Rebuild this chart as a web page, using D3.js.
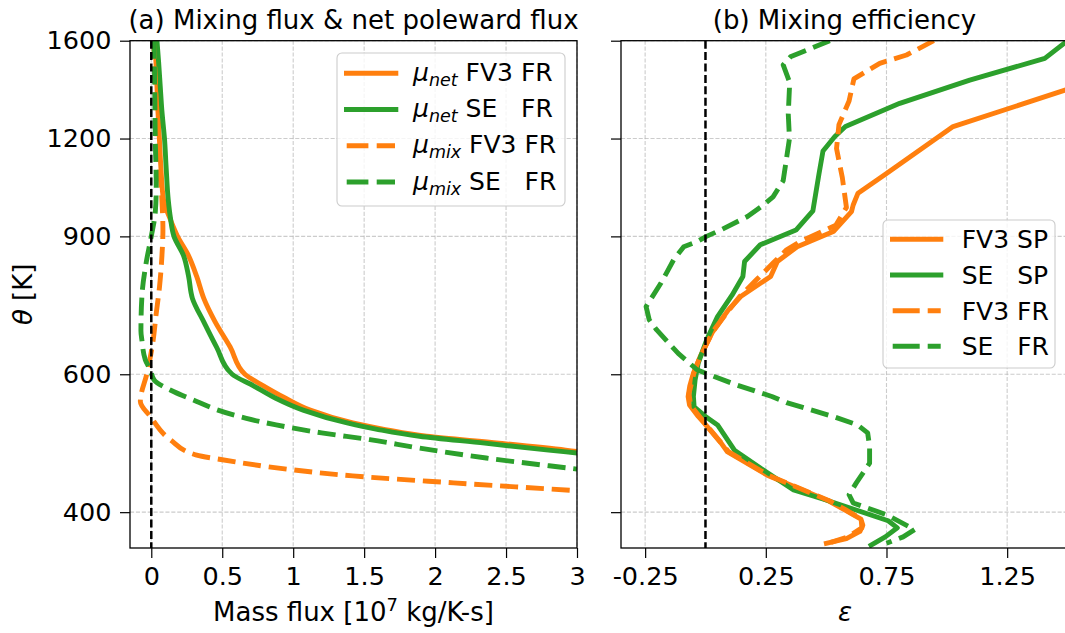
<!DOCTYPE html>
<html><head><meta charset="utf-8">
<script src="https://cdn.jsdelivr.net/npm/d3@7"></script>
<style>
body{margin:0;background:#fff}
svg{font-family:"DejaVu Sans",sans-serif}
</style></head><body>
<svg id="c" width="1065" height="633"></svg>
<script>
// ---- tick definitions ----
const thetaTicks=[400,600,900,1200,1600];
const fluxTicks=[0,0.5,1,1.5,2,2.5,3];
const fluxTickLabels=["0","0.5","1","1.5","2","2.5","3"];
const effTicks=[-0.25,0.25,0.75,1.25];
const effTickLabels=["-0.25","0.25","0.75","1.25"];

// ---- panel (a): [theta, mass flux] ----
const muNetFV3FR=[[1600,0.025],[1500,0.033],[1400,0.04],[1300,0.047],[1200,0.057],[1100,0.068],[1000,0.087],[950,0.13],[900,0.185],[850,0.263],[800,0.32],[750,0.37],[700,0.45],[650,0.556],[600,0.66],[580,0.79],[560,0.94],[540,1.12],[520,1.42],[510,1.65],[500,1.94],[490,2.45],[480,2.92],[478,3.0],[467,3.55]];
const muNetSEFR=[[1600,0.04],[1500,0.052],[1400,0.063],[1300,0.075],[1200,0.093],[1100,0.105],[1000,0.12],[950,0.135],[900,0.16],[850,0.228],[800,0.263],[750,0.29],[700,0.37],[650,0.46],[600,0.57],[580,0.72],[560,0.87],[540,1.07],[520,1.38],[510,1.6],[500,1.89],[490,2.35],[480,2.8],[476,3.0],[465,3.55]];
const muMixFV3FR=[[1600,0.016],[1400,0.03],[1200,0.04],[1000,0.075],[917,0.082],[850,0.075],[776,0.058],[718,0.035],[657,0.01],[602,-0.03],[554,-0.077],[530,-0.007],[495,0.134],[473,0.32],[467,0.49],[454,0.955],[445,1.42],[436,2.13],[426,3.0],[420,3.5]];
const muMixSEFR=[[1600,0.02],[1400,0.024],[1200,0.028],[1040,0.035],[965,0.028],[900,0.0],[835,-0.035],[755,-0.066],[682,-0.073],[663,-0.066],[626,-0.042],[608,-0.007],[590,0.02],[570,0.16],[554,0.32],[540,0.47],[527,0.67],[517,0.88],[505,1.2],[495,1.54],[483,1.89],[469,2.36],[454,3.0],[445,3.4]];

// ---- panel (b): [theta, mixing efficiency] ----
const effFV3SP=[[1393,1.52],[1243,1.026],[1083,0.75],[1022,0.632],[987,0.612],[968,0.605],[913,0.53],[873,0.38],[836,0.298],[800,0.27],[754,0.146],[725,0.095],[680,0.03],[632,-0.022],[602,-0.05],[580,-0.065],[562,-0.072],[548,-0.066],[530,-0.03],[520,-0.006],[490,0.065],[478,0.09],[446,0.256],[414,0.506],[403,0.575],[392,0.644],[385,0.652],[378,0.64],[370,0.584],[365,0.501]];
const effSESP=[[1600,1.5],[1519,1.406],[1425,1.095],[1331,0.805],[1243,0.58],[1207,0.536],[1157,0.487],[1080,0.47],[970,0.445],[917,0.375],[878,0.227],[836,0.162],[800,0.155],[757,0.11],[711,0.05],[664,0.005],[620,-0.03],[590,-0.043],[562,-0.05],[545,-0.047],[530,0.0],[517,0.05],[480,0.12],[455,0.229],[427,0.365],[414,0.506],[390,0.757],[382,0.795],[372,0.745],[363,0.686]];
const effFV3FR=[[1600,0.946],[1534,0.833],[1497,0.722],[1430,0.615],[1340,0.595],[1250,0.553],[1165,0.543],[1070,0.567],[980,0.584],[930,0.54],[886,0.391],[865,0.336],[832,0.28],[792,0.211],[754,0.142],[718,0.087],[680,0.03],[632,-0.022],[602,-0.048],[567,-0.068],[548,-0.062],[520,-0.003],[478,0.095],[446,0.26],[414,0.51],[403,0.58],[392,0.645],[382,0.648],[372,0.59],[366,0.52]];
const effSEFR=[[1600,0.515],[1526,0.352],[1490,0.322],[1415,0.349],[1290,0.343],[1200,0.348],[1060,0.322],[1011,0.28],[985,0.237],[954,0.174],[917,0.063],[900,0.004],[886,-0.035],[873,-0.09],[840,-0.132],[815,-0.155],[784,-0.185],[732,-0.246],[704,-0.233],[684,-0.203],[638,-0.113],[608,-0.035],[596,0.036],[582,0.125],[562,0.275],[552,0.336],[530,0.529],[517,0.63],[505,0.672],[485,0.68],[462,0.68],[436,0.625],[421,0.595],[411,0.612],[397,0.75],[380,0.867],[372,0.819],[365,0.75]];

const ORANGE="#ff7f0e", GREEN="#2ca02c";
const LW=4.9, DASH="18,7.8";
const FS=26, TFS=25.5, LFS=25;

const svg=d3.select("#c");
const y=d3.scaleLog().domain([360,1600]).range([548,40.7]);
const xa=d3.scaleLinear().domain([-0.15,3]).range([130,577]);
const xb=d3.scaleLinear().domain([-0.35,1.5]).range([621,1067.5]);

function drawPanel(id,x,ticks,labels,series,yLabels,curve){
  const [x0,x1]=x.range(); const [yb,yt]=y.range();
  svg.append("clipPath").attr("id",id).append("rect")
    .attr("x",x0).attr("y",yt).attr("width",x1-x0).attr("height",yb-yt);
  const g=svg.append("g");
  const grid=g.append("g").attr("stroke","#b0b0b0").attr("stroke-opacity",0.65)
    .attr("stroke-width",1.1).attr("stroke-dasharray","4.1,1.8");
  grid.selectAll("line.v").data(ticks).join("line").attr("class","v")
    .attr("x1",d=>x(d)).attr("x2",d=>x(d)).attr("y1",yt).attr("y2",yb);
  grid.selectAll("line.h").data(thetaTicks).join("line").attr("class","h")
    .attr("x1",x0).attr("x2",x1).attr("y1",d=>y(d)).attr("y2",d=>y(d));
  const plot=g.append("g").attr("clip-path",`url(#${id})`);
  const line=d3.line().x(d=>x(d[1])).y(d=>y(d[0])).curve(curve);
  series.forEach(s=>{
    plot.append("path").datum(s.data).attr("d",line).attr("fill","none")
      .attr("stroke",s.color).attr("stroke-width",LW)
      .attr("stroke-dasharray",s.dashed?DASH:null)
      .attr("stroke-linejoin","round")
      .attr("stroke-linecap",s.dashed?"butt":"square");
  });
  plot.append("line").attr("x1",x(0)).attr("x2",x(0)).attr("y1",yt).attr("y2",yb)
    .attr("stroke","#000").attr("stroke-width",2.5).attr("stroke-dasharray","8,3.4");
  // axes
  const ax=d3.axisBottom(x).tickValues(ticks).tickFormat((d,i)=>labels[i])
    .tickSize(10).tickPadding(9).tickSizeOuter(0);
  const gx=svg.append("g").attr("transform",`translate(0,${yb})`).call(ax);
  const ay=d3.axisLeft(y).tickValues(thetaTicks).tickFormat(d=>yLabels?String(d):"")
    .tickSize(10).tickPadding(8.5).tickSizeOuter(0);
  const gy=svg.append("g").attr("transform",`translate(${x0},0)`).call(ay);
  [gx,gy].forEach(a=>{
    a.select(".domain").remove();
    a.selectAll("line").attr("stroke","#000").attr("stroke-width",1.2);
    a.selectAll("text").attr("font-size",TFS).attr("font-family",'"DejaVu Sans",sans-serif').attr("fill","#000");
  });
  svg.append("rect").attr("x",x0).attr("y",yt).attr("width",x1-x0).attr("height",yb-yt)
    .attr("fill","none").attr("stroke","#000").attr("stroke-width",1.3);
}

drawPanel("clipA",xa,fluxTicks,fluxTickLabels,[
  {data:muNetFV3FR,color:ORANGE,dashed:false},
  {data:muNetSEFR,color:GREEN,dashed:false},
  {data:muMixFV3FR,color:ORANGE,dashed:true},
  {data:muMixSEFR,color:GREEN,dashed:true}],true,d3.curveMonotoneY);
drawPanel("clipB",xb,effTicks,effTickLabels,[
  {data:effFV3SP,color:ORANGE,dashed:false},
  {data:effSESP,color:GREEN,dashed:false},
  {data:effFV3FR,color:ORANGE,dashed:true},
  {data:effSEFR,color:GREEN,dashed:true}],false,d3.curveLinear);

// titles
svg.append("text").attr("x",353.5).attr("y",29).attr("text-anchor","middle").attr("font-size",FS)
  .text("(a) Mixing flux & net poleward flux");
svg.append("text").attr("x",844.5).attr("y",29).attr("text-anchor","middle").attr("font-size",FS)
  .text("(b) Mixing efficiency");
// axis labels
svg.append("text").attr("transform","translate(32,294.3) rotate(-90)").attr("text-anchor","middle")
  .attr("font-size",FS).html('<tspan font-style="italic">θ</tspan> [K]');
const xl=svg.append("text").attr("x",353.5).attr("y",621).attr("text-anchor","middle").attr("font-size",FS);
xl.append("tspan").text("Mass flux [10");
xl.append("tspan").attr("font-size",18).attr("dy",-10).text("7");
xl.append("tspan").attr("dy",10).style("white-space","pre").text(" kg/K-s]");
svg.append("text").attr("x",845).attr("y",621).attr("text-anchor","middle").attr("font-size",FS)
  .attr("font-style","italic").text("ε");

// legends
const legA=[
  {sym:"μ",sub:"net",txt:" FV3 FR",color:ORANGE,dashed:false},
  {sym:"μ",sub:"net",txt:" SE   FR",color:GREEN,dashed:false},
  {sym:"μ",sub:"mix",txt:" FV3 FR",color:ORANGE,dashed:true},
  {sym:"μ",sub:"mix",txt:" SE   FR",color:GREEN,dashed:true}];
const legB=[
  {txt:"FV3 SP",color:ORANGE,dashed:false},
  {txt:"SE   SP",color:GREEN,dashed:false},
  {txt:"FV3 FR",color:ORANGE,dashed:true},
  {txt:"SE   FR",color:GREEN,dashed:true}];

function legend(items,box,rows,h,tx,dy,dashArr){
  const g=svg.append("g");
  g.append("rect").attr("x",box[0]).attr("y",box[1]).attr("width",box[2]).attr("height",box[3])
    .attr("rx",5).attr("fill","#fff").attr("fill-opacity",0.8).attr("stroke","#cccccc").attr("stroke-width",1.1);
  items.forEach((it,i)=>{
    const yy=rows[i];
    const l=it.dashed?h.dash:h.solid;
    g.append("line").attr("x1",l[0]).attr("x2",l[1]).attr("y1",yy).attr("y2",yy)
      .attr("stroke",it.color).attr("stroke-width",LW).attr("stroke-dasharray",it.dashed?dashArr:null);
    const t=g.append("text").attr("x",tx).attr("y",yy+dy).attr("font-size",LFS).style("white-space","pre");
    if(it.sym){
      t.append("tspan").attr("font-style","italic").text(it.sym);
      t.append("tspan").attr("font-style","italic").attr("font-size",17.5).attr("dy",5).text(it.sub);
      t.append("tspan").attr("dy",-5).text(it.txt);
    } else t.text(it.txt);
  });
}
legend(legA,[337,53,228,153],[73.3,109.5,145.7,182],{solid:[344,398.3],dash:[346.7,395]},413,7.5,"21.7,8.3");
legend(legB,[883,220,172,148],[239.3,275,310.7,346.3],{solid:[890,943.3],dash:[892.7,940.7]},961.7,9,"27,8");
</script>
</body></html>
